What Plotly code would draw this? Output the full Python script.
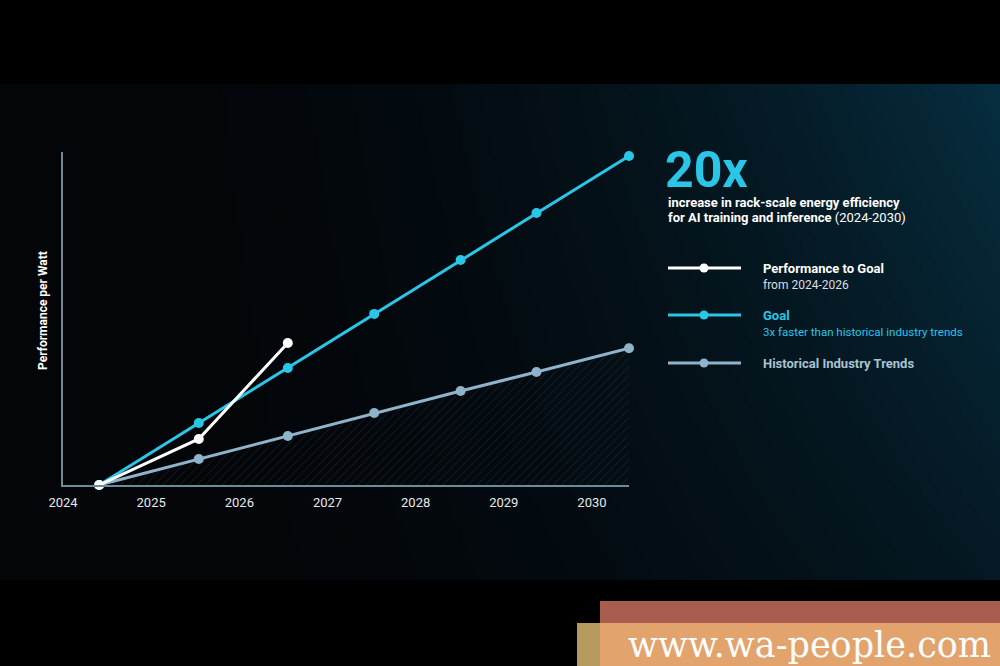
import base64, struct, zlib
import numpy as np
import plotly.graph_objects as go

# ---------------- data ----------------
years = [2024, 2025, 2026, 2027, 2028, 2029, 2030]
tick_labels = ["2024", "2025", "2026", "2027", "2028", "2029", "2030"]

goal_x = [2024.41, 2025.54, 2026.55, 2027.53, 2028.51, 2029.37, 2030.42]
goal_y = [0.0, 3.77, 7.11, 10.40, 13.68, 16.53, 20.0]

hist_x = [2024.41, 2025.54, 2026.55, 2027.53, 2028.51, 2029.37, 2030.42]
hist_y = [0.0, 1.58, 2.98, 4.38, 5.71, 6.87, 8.31]

perf_x = [2024.41, 2025.54, 2026.55]
perf_y = [0.0, 2.80, 8.63]

# ---------------- styles ----------------
W, H = 1000, 666
L, R, T, B = 63, 629, 152, 485  # plot area in pixels
CYAN = "#2ac6e8"
HIST = "#8fb4c9"
WHITE = "#ffffff"
AXIS = "#6d8b99"
FONT = "Roboto, Arial, sans-serif"


def px(x):
    return (x - L) / (R - L)


def py(y):
    return (B - y) / (B - T)


# background gradient image (slide area) generated locally as PNG
def make_png(arr):
    h, w, _ = arr.shape
    raw = b"".join(b"\x00" + arr[i].tobytes() for i in range(h))

    def chunk(tag, data):
        c = struct.pack(">I", len(data)) + tag + data
        return c + struct.pack(">I", zlib.crc32(tag + data) & 0xFFFFFFFF)

    png = b"\x89PNG\r\n\x1a\n"
    png += chunk(b"IHDR", struct.pack(">IIBBBBB", w, h, 8, 2, 0, 0, 0))
    png += chunk(b"IDAT", zlib.compress(raw, 9))
    png += chunk(b"IEND", b"")
    return "data:image/png;base64," + base64.b64encode(png).decode()


gw, gh = 200, 100
u = np.linspace(0, 1, gw)[None, :]
v = np.linspace(0, 1, gh)[:, None]
t = np.clip((u ** 2.2) * (1.0 - 0.5 * v), 0, 1)
base = np.array([3, 5, 8], dtype=float)
teal = np.array([7, 46, 64], dtype=float)
img = base[None, None, :] + t[:, :, None] * (teal - base)[None, None, :]
bg_uri = make_png(np.clip(img, 0, 255).astype(np.uint8))

fig = go.Figure()

fig.add_trace(go.Scatter(
    x=hist_x, y=hist_y, mode="lines+markers", name="Historical Industry Trends",
    line=dict(color=HIST, width=3), marker=dict(size=10, color=HIST),
    fill="tozeroy", fillcolor="rgba(0,0,0,0)",
    fillpattern=dict(shape="/", fgcolor="#3b4853", bgcolor="rgba(0,0,0,0)", size=6, solidity=0.12),
    cliponaxis=False, showlegend=False,
))
fig.add_trace(go.Scatter(
    x=goal_x, y=goal_y, mode="lines+markers", name="Goal",
    line=dict(color=CYAN, width=3), marker=dict(size=10, color=CYAN),
    cliponaxis=False, showlegend=False,
))
fig.add_trace(go.Scatter(
    x=perf_x, y=perf_y, mode="lines+markers", name="Performance to Goal",
    line=dict(color=WHITE, width=3), marker=dict(size=10, color=WHITE),
    cliponaxis=False, showlegend=False,
))

shapes = []
annotations = []

# legend (custom)
legend_rows = [
    (268, WHITE, "<b>Performance to Goal</b>", WHITE, "from 2024-2026", "#d9dde0", 12),
    (315, CYAN, "<b>Goal</b>", CYAN, "3x faster than historical industry trends", CYAN, 11.5),
    (363, HIST, "<b>Historical Industry Trends</b>", "#a8c3d3", None, None, None),
]
for yy, col, t1, c1, t2, c2, s2 in legend_rows:
    shapes.append(dict(type="line", xref="paper", yref="paper",
                       x0=px(668), x1=px(741), y0=py(yy), y1=py(yy),
                       line=dict(color=col, width=3)))
    r = 4.5
    shapes.append(dict(type="circle", xref="paper", yref="paper",
                       x0=px(704 - r), x1=px(704 + r), y0=py(yy + r), y1=py(yy - r),
                       fillcolor=col, line=dict(color=col, width=0)))
    annotations.append(dict(text=t1, x=px(761), y=py(yy), xref="paper", yref="paper",
                            xanchor="left", yanchor="middle", showarrow=False,
                            font=dict(family=FONT, size=13, color=c1)))
    if t2:
        annotations.append(dict(text=t2, x=px(761), y=py(yy + 17), xref="paper", yref="paper",
                                xanchor="left", yanchor="middle", showarrow=False,
                                font=dict(family=FONT, size=s2, color=c2)))

# headline
annotations.append(dict(text="<b>20x</b>", x=px(664), y=py(170), xref="paper", yref="paper",
                        xanchor="left", yanchor="middle", showarrow=False, borderpad=0,
                        font=dict(family=FONT, size=50, color=CYAN)))
annotations.append(dict(text="<b>increase in rack-scale energy efficiency</b>", x=px(666), y=py(202),
                        xref="paper", yref="paper", xanchor="left", yanchor="middle", showarrow=False,
                        font=dict(family=FONT, size=13, color=WHITE)))
annotations.append(dict(text="<b>for AI training and inference</b> (2024-2030)", x=px(666), y=py(217),
                        xref="paper", yref="paper", xanchor="left", yanchor="middle", showarrow=False,
                        font=dict(family=FONT, size=13, color=WHITE)))

# y-axis title
annotations.append(dict(text="<b>Performance per Watt</b>", x=px(43), y=py(311), xref="paper", yref="paper",
                        xanchor="center", yanchor="middle", showarrow=False, textangle=-90,
                        font=dict(family=FONT, size=12, color=WHITE)))

# watermark
shapes.append(dict(type="rect", xref="paper", yref="paper", x0=px(600), x1=px(1000), y0=py(623), y1=py(601),
                   fillcolor="#a85e4f", line=dict(width=0)))
shapes.append(dict(type="rect", xref="paper", yref="paper", x0=px(577), x1=px(600), y0=py(666), y1=py(623),
                   fillcolor="#b49a5e", line=dict(width=0)))
shapes.append(dict(type="rect", xref="paper", yref="paper", x0=px(600), x1=px(1000), y0=py(666), y1=py(623),
                   fillcolor="#e2a36d", line=dict(width=0)))
annotations.append(dict(text="www.wa-people.com", x=px(993), y=py(645), xref="paper", yref="paper",
                        xanchor="right", yanchor="middle", showarrow=False,
                        font=dict(family="DejaVu Serif, Liberation Serif, serif", size=35, color="#ffffff")))

fig.update_layout(
    width=W, height=H,
    margin=dict(l=L, r=W - R, t=T, b=H - B, autoexpand=False),
    paper_bgcolor="#000000", plot_bgcolor="rgba(0,0,0,0)",
    showlegend=False,
    shapes=shapes, annotations=annotations,
    images=[dict(source=bg_uri, xref="paper", yref="paper", x=px(0), y=py(84),
                 sizex=px(1000) - px(0), sizey=py(84) - py(580), sizing="stretch", layer="below",
                 xanchor="left", yanchor="top")],
    xaxis=dict(range=[2024, 2030.42], tickvals=years, ticktext=tick_labels,
               showgrid=False, zeroline=False, showline=True, linecolor=AXIS, linewidth=1.5,
               ticks="", ticklabelstandoff=5, automargin=False,
               tickfont=dict(family=FONT, size=13, color="#e6e9eb")),
    yaxis=dict(range=[0, 20.24], showgrid=False, zeroline=False, showline=True,
               linecolor=AXIS, linewidth=1.5, showticklabels=False, ticks="", automargin=False),
)

fig.write_html("out.html", config={"displayModeBar": False},
               post_script="document.body.style.margin='0';document.body.style.background='#000';")
